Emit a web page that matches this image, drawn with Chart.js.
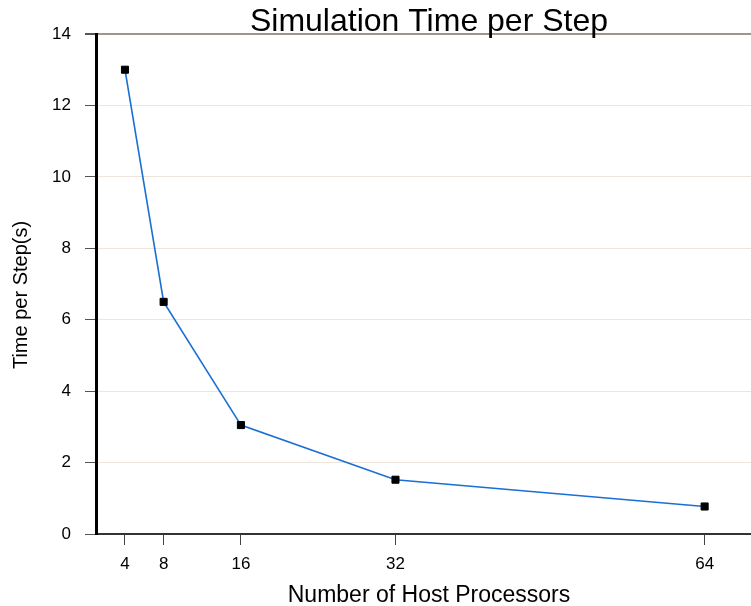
<!DOCTYPE html>
<html>
<head>
<meta charset="utf-8">
<script src="https://cdn.jsdelivr.net/npm/chart.js@4.4.1/dist/chart.umd.min.js"></script>
<style>
  html, body { margin: 0; padding: 0; background: #fff; }
  #wrap { width: 751px; height: 606px; position: relative; }
</style>
</head>
<body>
<div id="wrap"><canvas id="c" width="751" height="606"></canvas></div>
<script>
// Host processor counts and measured time per simulation step (seconds)
const processors = [4, 8, 16, 32, 64];
const timePerStep = [13.0, 6.5, 3.05, 1.52, 0.77];
const xTickValues = [4, 8, 16, 32, 64];
const yTickValues = [0, 2, 4, 6, 8, 10, 12, 14];

const chartTitle = 'Simulation Time per Step';
const xAxisLabel = 'Number of Host Processors';
const yAxisLabel = 'Time per Step(s)';

const FONT = 'Arial, "Liberation Sans", sans-serif';

// Title and axis captions drawn onto the canvas after the chart
const captions = {
  id: 'captions',
  afterDraw(chart) {
    const ctx = chart.ctx;
    ctx.save();
    ctx.fillStyle = '#000';
    ctx.textBaseline = 'alphabetic';
    ctx.textAlign = 'center';
    ctx.font = '32px ' + FONT;
    ctx.fillText(chartTitle, 429, 31);
    ctx.font = '23px ' + FONT;
    ctx.fillText(xAxisLabel, 429, 602);
    ctx.font = '20px ' + FONT;
    ctx.translate(27, 295);
    ctx.rotate(-Math.PI / 2);
    ctx.fillText(yAxisLabel, 0, 0);
    ctx.restore();
  }
};

new Chart(document.getElementById('c'), {
  type: 'line',
  data: {
    datasets: [{
      data: processors.map((p, i) => ({ x: p, y: timePerStep[i] })),
      borderColor: '#1a6fd4',
      borderWidth: 1.6,
      pointStyle: 'rect',
      pointRadius: 5,
      pointBorderWidth: 1,
      pointBackgroundColor: '#000',
      pointBorderColor: '#000',
      tension: 0,
      clip: false
    }]
  },
  options: {
    responsive: false,
    animation: false,
    devicePixelRatio: 1,
    layout: { autoPadding: false, padding: { top: 34, right: 0, bottom: 0, left: 0 } },
    plugins: {
      legend: { display: false },
      title: { display: false },
      tooltip: { enabled: false }
    },
    scales: {
      x: {
        type: 'linear',
        min: 1,
        max: 68.8,
        afterBuildTicks(scale) { scale.ticks = xTickValues.map(v => ({ value: v })); },
        afterFit(scale) {
          scale.height = 72;
          scale.paddingLeft = 0;
          scale.paddingRight = 0;
        },
        border: { display: true, color: '#333', width: 2 },
        grid: {
          drawOnChartArea: false,
          drawTicks: true,
          tickLength: 11,
          tickColor: '#444',
          tickWidth: 1
        },
        ticks: {
          color: '#000',
          font: { family: FONT, size: 17 },
          padding: 9,
          maxRotation: 0,
          autoSkip: false
        }
      },
      y: {
        type: 'linear',
        min: 0,
        max: 14,
        afterBuildTicks(scale) { scale.ticks = yTickValues.map(v => ({ value: v })); },
        afterFit(scale) { scale.width = 96; },
        border: { display: true, color: '#000', width: 3 },
        grid: {
          drawTicks: true,
          tickLength: 11,
          tickColor: '#555',
          color: ctx => ctx.tick && ctx.tick.value === 14 ? '#9e958d' : '#efe4da',
          lineWidth: ctx => ctx.tick && ctx.tick.value === 14 ? 2 : 1
        },
        ticks: {
          color: '#000',
          font: { family: FONT, size: 17 },
          padding: 14,
          autoSkip: false
        }
      }
    }
  },
  plugins: [captions]
});
</script>
</body>
</html>
